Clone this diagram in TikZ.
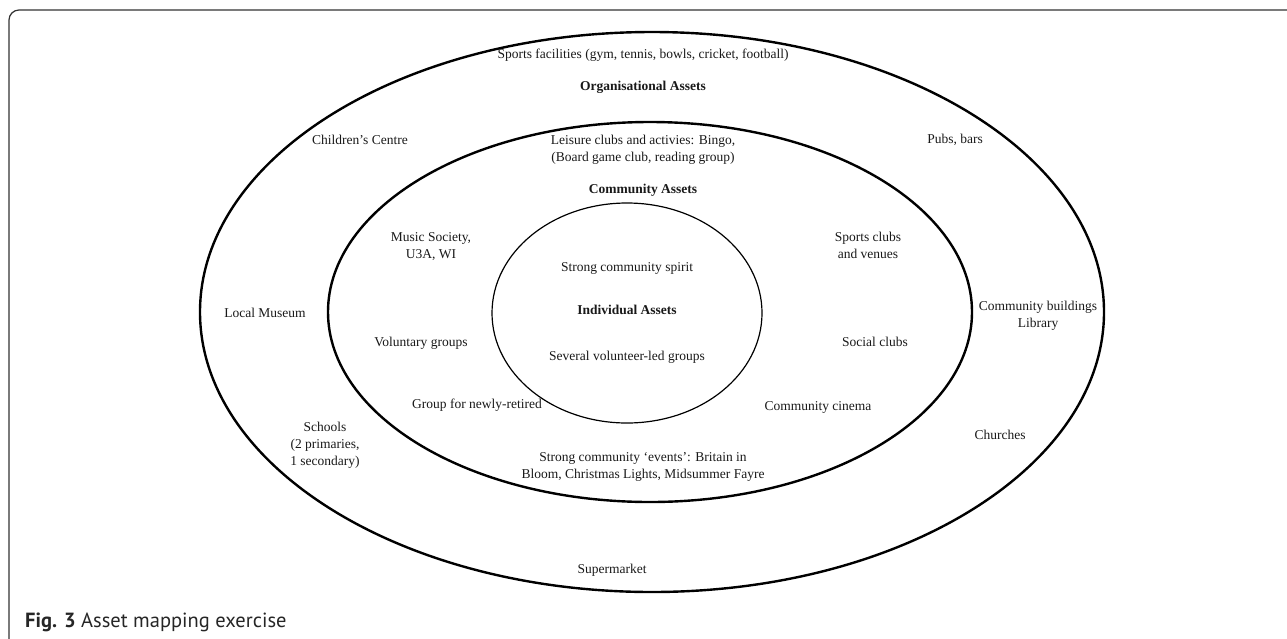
\documentclass[tikz,border=0pt]{standalone}
\usepackage{fontspec}
\setmainfont{Liberation Serif}
\newfontfamily\capfont{PT Sans}
\begin{document}
\begin{tikzpicture}[x=1pt,y=-1pt,
  every node/.style={font=\fontsize{13.5}{17}\selectfont, align=center, inner sep=0pt, text=black!90},
  ringtitle/.style={font=\fontsize{13.5}{17}\selectfont\bfseries},
  ring/.style={line width=2.4pt}]
\useasboundingbox (0,0) rectangle (1287,638);
\clip (0,0) rectangle (1287,638);
% frame of the figure
\draw[line width=1.2pt, black!80, rounded corners=10pt] (9,10) rectangle (1330,660);
% the three rings
\draw[ring] (652,312) ellipse [x radius=452, y radius=280];
\draw[ring] (650,312) ellipse [x radius=322, y radius=190];
\draw[line width=1.2pt] (627,313) ellipse [x radius=135, y radius=110];
% outer ring
\node (sports) at (643,55) {Sports facilities (gym, tennis, bowls, cricket, football)};
\node[ringtitle] (orgassets) at (643,87) {Organisational Assets};
\node (children) at (360,140) {Children's Centre};
\node (pubs) at (955,140) {Pubs, bars};
\node (museum) at (265,313) {Local Museum};
\node (buildings) at (1038,316) {Community buildings\\Library};
\node (schools) at (325,445) {Schools\\(2 primaries,\\1 secondary)};
\node (churches) at (1000,435) {Churches};
\node (supermarket) at (612,570) {Supermarket};
% middle ring
\node (leisure) at (643,150) {Leisure clubs and activies: Bingo,\\(Board game club, reading group)};
\node[ringtitle] (commassets) at (643,190) {Community Assets};
\node (music) at (431,247) {Music Society,\\U3A, WI};
\node (sportsclubs) at (868,245) {Sports clubs\\and venues};
\node (voluntary) at (421,343) {Voluntary groups};
\node (social) at (875,342) {Social clubs};
\node (retired) at (477,405) {Group for newly-retired};
\node (cinema) at (818,407) {Community cinema};
\node (events) at (643,467) {Strong community `events': Britain in\\Bloom, Christmas Lights, Midsummer Fayre};
% inner ring
\node (spirit) at (627,268) {Strong community spirit};
\node[ringtitle] (indassets) at (627,310) {Individual Assets};
\node (volunteer) at (627,357) {Several volunteer-led groups};
% caption
\node[anchor=west, font=\capfont\fontsize{20.5}{24}\selectfont, text=black!85] (caption) at (25,622) {\textbf{Fig. 3} Asset mapping exercise};
\end{tikzpicture}
\end{document}
